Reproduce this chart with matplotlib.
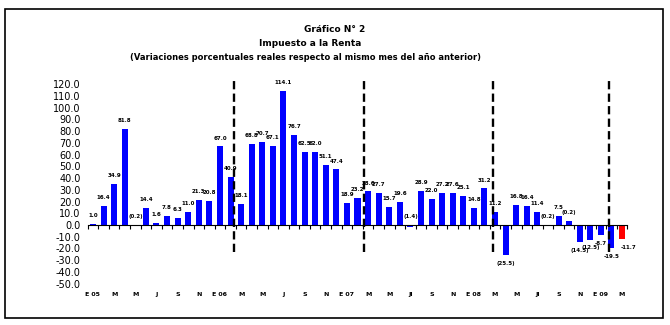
import matplotlib
matplotlib.use('Agg')
import matplotlib.pyplot as plt
from matplotlib.patches import Rectangle

# monthly real % change, Jan 2005 - Mar 2009
values = [1.0, 16.4, 34.9, 81.8, -0.2, 14.4, 1.6, 7.8, 6.3, 11.0, 21.3, 20.8,
          67.0, 40.9, 18.1, 68.8, 70.7, 67.1, 114.1, 76.7, 62.5, 62.0, 51.1, 47.4,
          18.9, 23.2, 28.6, 27.7, 15.7, 19.6, -1.4, 28.9, 22.0, 27.2, 27.6, 25.1,
          14.8, 31.2, 11.2, -25.5, 16.8, 16.4, 11.4, -0.2, 7.5, 3.8, -14.5, -12.5,
          -8.7, -19.5, -11.7]
labels = ['1.0', '16.4', '34.9', '81.8', '(0.2)', '14.4', '1.6', '7.8', '6.3', '11.0', '21.3', '20.8',
          '67.0', '40.9', '18.1', '68.8', '70.7', '67.1', '114.1', '76.7', '62.5', '62.0', '51.1', '47.4',
          '18.9', '23.2', '28.6', '27.7', '15.7', '19.6', '(1.4)', '28.9', '22.0', '27.2', '27.6', '25.1',
          '14.8', '31.2', '11.2', '(25.5)', '16.8', '16.4', '11.4', '(0.2)', '7.5', '(0.2)', '(14.5)', '(12.5)',
          '-8.7', '-19.5', '-11.7']
month_labels = ['E 05', '', 'M', '', 'M', '', 'J', '', 'S', '', 'N', '',
                'E 06', '', 'M', '', 'M', '', 'J', '', 'S', '', 'N', '',
                'E 07', '', 'M', '', 'M', '', 'Jl', '', 'S', '', 'N', '',
                'E 08', '', 'M', '', 'M', '', 'Jl', '', 'S', '', 'N', '',
                'E 09', '', 'M']
# period breaks marked with dashed lines
breaks = [13.35, 25.6, 37.8, 48.8]

fig = plt.figure(figsize=(6.7, 3.25), dpi=100)
ax = fig.add_axes([0.1309, 0.1274, 0.8054, 0.6132])

x = list(range(len(values)))
colors = ['#0000FF'] * (len(values) - 1) + ['#FF0000']
ax.bar(x, values, width=0.57, color=colors, zorder=2)

for xi, v, lab in zip(x, values, labels):
    dx = 0
    if xi == len(values) - 1:
        dx = 5  # last label sits off to the right in the original
    if v >= 0:
        ax.annotate(lab, (xi, v), xytext=(dx, 6), textcoords='offset points',
                    ha='center', va='center', fontsize=4, fontweight='bold')
    elif v > -3:
        ax.annotate(lab, (xi, 0), xytext=(dx, 6), textcoords='offset points',
                    ha='center', va='center', fontsize=4, fontweight='bold')
    else:
        ax.annotate(lab, (xi, v), xytext=(dx, -6), textcoords='offset points',
                    ha='center', va='center', fontsize=4, fontweight='bold')

for b in breaks:
    ax.plot([b, b], [-23, 125.5], color='black', lw=1.7, ls=(0, (3.5, 1.8)),
            clip_on=False, zorder=3)

for xi, ml in zip(x, month_labels):
    if ml:
        ax.text(xi, -59.5, ml, ha='center', va='center', fontsize=4.5, fontweight='bold')

ax.set_xlim(-0.5, len(values) - 0.5)
ax.set_ylim(-50, 120)
ax.set_yticks(range(-50, 121, 10))
ax.set_yticklabels([f'{t:.1f}' for t in range(-50, 121, 10)], fontsize=7)
ax.tick_params(axis='y', length=0, pad=5)
ax.set_xticks([i - 0.5 for i in range(len(values) + 1)])
ax.set_xticklabels([])
ax.tick_params(axis='x', direction='out', length=3, width=0.8)
for s in ['left', 'top', 'right']:
    ax.spines[s].set_visible(False)
ax.spines['bottom'].set_position(('data', 0))
ax.spines['bottom'].set_linewidth(0.8)

fig.text(0.5, 1 - 30 / 325, 'Gráfico N° 2', ha='center', va='center', fontsize=6.5, fontweight='bold')
fig.text(310 / 670, 1 - 43 / 325, 'Impuesto a la Renta', ha='center', va='center', fontsize=6.5, fontweight='bold')
fig.text(306 / 670, 1 - 57 / 325,
         '(Variaciones porcentuales reales respecto al mismo mes del año anterior)',
         ha='center', va='center', fontsize=6, fontweight='bold')

fig.patches.append(Rectangle((5 / 670, 1 - 318 / 325), 658 / 670, 309 / 325,
                             transform=fig.transFigure, fill=False, lw=1.2, ec='black'))

plt.savefig('out.png', dpi=100)
